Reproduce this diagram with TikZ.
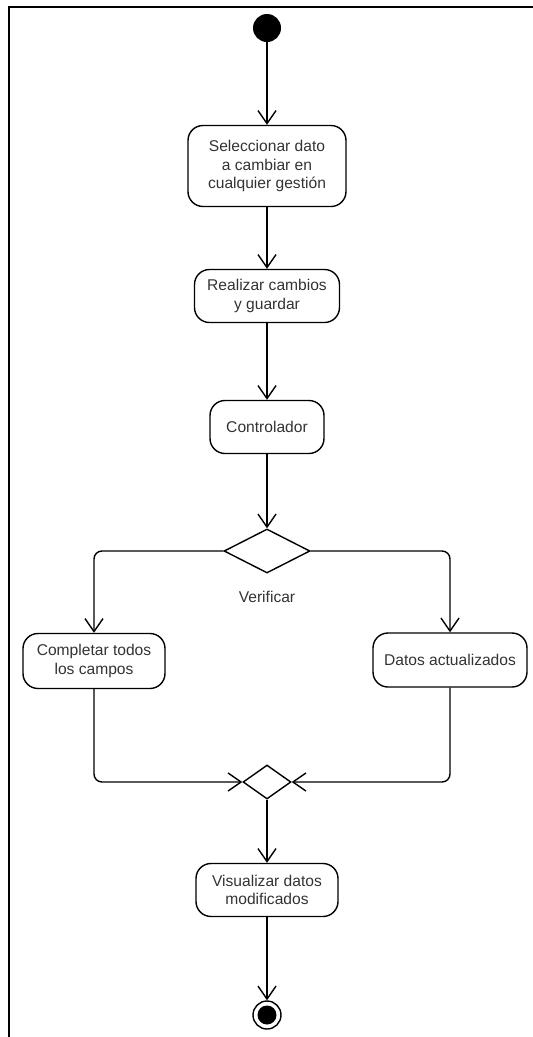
\documentclass[tikz,border=0pt]{standalone}
\usepackage{fontspec}
\setmainfont{Liberation Sans}
\usetikzlibrary{arrows.meta}
\usetikzlibrary{shapes.geometric}

\begin{document}
\begin{tikzpicture}[x=1pt, y=-1pt,
 act/.style={draw, rounded corners=15pt, line width=1.4pt, align=center, text=black!80, font=\fontsize{15.6}{18.5}\selectfont, inner sep=2pt},
 dec/.style={draw, diamond, line width=1.4pt, inner sep=0pt},
 flow/.style={line width=1.4pt, -{Straight Barb[length=13pt,width=18pt,line width=1.4pt]}, rounded corners=8pt}]
\useasboundingbox (0,0) rectangle (533,1037);
\draw[line width=2pt] (533,7) -- (9,7) -- (9,1037);
\node[circle, fill=black, minimum size=28pt, inner sep=0pt] (start) at (267,28) {};
\node[act, minimum width=158pt, minimum height=81pt] (sel) at (267,166) {Seleccionar dato\\a cambiar en\\cualquier gestión};
\node[act, minimum width=145pt, minimum height=53pt] (guar) at (267,296) {Realizar cambios\\y guardar};
\node[act, minimum width=114pt, minimum height=53pt] (ctrl) at (267,427) {Controlador};
\node[dec, minimum width=86pt, minimum height=44pt] (ver) at (267,551) {};
\node[text=black!80, font=\fontsize{15.6}{18.5}\selectfont] (verlbl) at (267,597) {Verificar};
\node[act, minimum width=142pt, minimum height=55pt] (comp) at (94,661) {Completar todos\\los campos};
\node[act, minimum width=154pt, minimum height=54pt] (dat) at (450,660) {Datos actualizados};
\node[dec, minimum width=48pt, minimum height=34pt] (mer) at (267,782) {};
\node[act, minimum width=142pt, minimum height=53pt] (vis) at (267,890) {Visualizar datos\\modificados};
\node[circle, draw, line width=1.4pt, minimum size=28pt, inner sep=0pt] (fin) at (267,1015) {};
\node[circle, fill=black, minimum size=19pt, inner sep=0pt] (finin) at (fin) {};
% flujo
\draw[flow] (start) -- (sel);
\draw[flow] (sel) -- (guar);
\draw[flow] (guar) -- (ctrl);
\draw[flow] (ctrl) -- (ver);
\draw[flow] (ver.west) -| (comp.north);
\draw[flow] (ver.east) -| (dat.north);
\draw[flow] (comp.south) |- (mer.west);
\draw[flow] (dat.south) |- (mer.east);
\draw[flow] (mer) -- (vis);
\draw[flow] (vis) -- (fin);
\end{tikzpicture}
\end{document}
